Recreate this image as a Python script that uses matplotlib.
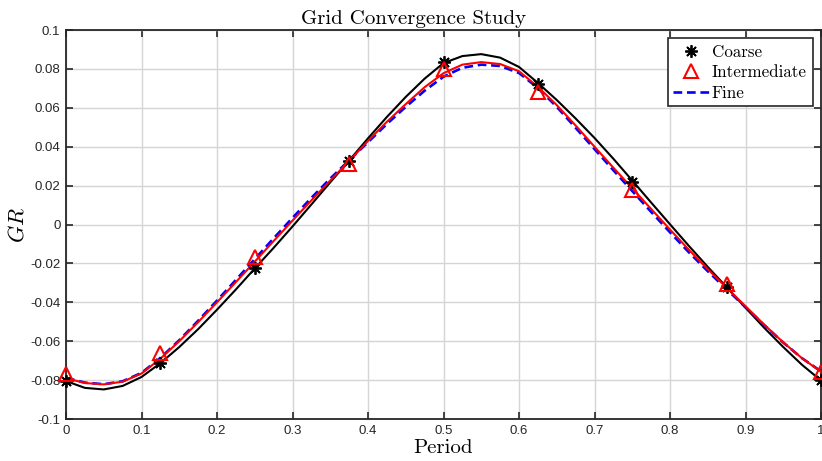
import numpy as np
import matplotlib.pyplot as plt
from matplotlib.lines import Line2D

plt.rcParams['mathtext.fontset'] = 'cm'

# sample points of each grid (one per eighth of the period)
period_pts = [0, 0.125, 0.25, 0.375, 0.5, 0.625, 0.75, 0.875, 1.0]
coarse_pts = [-0.0805, -0.0713, -0.0226, 0.0329, 0.0833, 0.0723, 0.0220, -0.0322, -0.0802]
inter_pts = [-0.0768, -0.0660, -0.0168, 0.0312, 0.0800, 0.0680, 0.0178, -0.0308, -0.0760]

# fitted curves over the period
period = np.linspace(0, 1, 41)
coarse_fit = [-0.0805, -0.0840, -0.0848, -0.0830, -0.0784, -0.0713, -0.0630, -0.0538, -0.0438,
              -0.0334, -0.0226, -0.0120, -0.0010, 0.0103, 0.0217, 0.0329, 0.0443, 0.0553,
              0.0656, 0.0750, 0.0830, 0.0866, 0.0876, 0.0858, 0.0810, 0.0728, 0.0640,
              0.0545, 0.0445, 0.0338, 0.0226, 0.0113, 0.0001, -0.0110, -0.0218, -0.0322,
              -0.0428, -0.0532, -0.0630, -0.0722, -0.0802]
inter_fit = [-0.0790, -0.0815, -0.0822, -0.0808, -0.0766, -0.0690, -0.0600, -0.0502, -0.0400,
             -0.0296, -0.0191, -0.0085, 0.0020, 0.0124, 0.0226, 0.0326, 0.0430, 0.0528,
             0.0619, 0.0706, 0.0778, 0.0822, 0.0835, 0.0825, 0.0788, 0.0708, 0.0614,
             0.0509, 0.0400, 0.0292, 0.0186, 0.0080, -0.0026, -0.0130, -0.0230, -0.0325,
             -0.0420, -0.0516, -0.0606, -0.0688, -0.0757]
fine_fit = [-0.0788, -0.0813, -0.0821, -0.0806, -0.0763, -0.0686, -0.0595, -0.0495, -0.0391,
            -0.0285, -0.0178, -0.0071, 0.0034, 0.0137, 0.0236, 0.0330, 0.0423, 0.0517,
            0.0605, 0.0688, 0.0760, 0.0806, 0.0822, 0.0815, 0.0779, 0.0702, 0.0605,
            0.0497, 0.0388, 0.0279, 0.0172, 0.0065, -0.0040, -0.0143, -0.0240, -0.0333,
            -0.0425, -0.0518, -0.0607, -0.0688, -0.0755]

xticks = [0, 0.1, 0.2, 0.3, 0.4, 0.5, 0.6, 0.7, 0.8, 0.9, 1]
yticks = [-0.1, -0.08, -0.06, -0.04, -0.02, 0, 0.02, 0.04, 0.06, 0.08, 0.1]

axcol = '#262626'
fine_dash = (0, (3.3, 1.8))
fig = plt.figure(figsize=(8.22, 4.61), dpi=100)
ax = fig.add_axes([0.0803, 0.0911, 0.9185, 0.8438])

ax.plot(period, coarse_fit, color='k', lw=1.5, zorder=3)
ax.plot(period, fine_fit, color='#0000ff', lw=1.9, ls=fine_dash, zorder=3)
ax.plot(period, inter_fit, color='#ff0000', lw=1.5, zorder=4)

ms_star = (8, 2, 0)
ax.plot(period_pts, coarse_pts, ls='none', marker=ms_star, ms=9, mec='k', mew=1.3,
        zorder=5, clip_on=False)
ax.plot(period_pts, inter_pts, ls='none', marker='^', ms=9.5, mfc='none', mec='#ff0000',
        mew=1.5, zorder=6, clip_on=False)

ax.set_xlim(0, 1)
ax.set_ylim(-0.1, 0.1)
ax.set_xticks(xticks)
ax.set_xticklabels(['%g' % v for v in xticks])
ax.set_yticks(yticks)
ax.set_yticklabels(['%g' % v for v in yticks])
ax.tick_params(direction='in', length=5, width=1.2, colors=axcol, labelsize=9.5,
               top=True, right=True, labeltop=False, labelright=False, pad=4)
for lab in ax.get_xticklabels() + ax.get_yticklabels():
    lab.set_fontfamily('Liberation Sans')
for sp in ax.spines.values():
    sp.set_color(axcol)
    sp.set_linewidth(1.3)
ax.grid(True, color='#d5d5d5', lw=1.0)
ax.set_axisbelow(True)

ax.set_title('Grid Convergence Study', fontfamily='cmr10', fontsize=15, x=0.46, pad=4)
ax.set_xlabel('Period', fontfamily='cmr10', fontsize=15, labelpad=2)
ax.set_ylabel(r'$GR$', fontsize=16, labelpad=2)

handles = [
    Line2D([], [], ls='none', marker=ms_star, ms=9, mec='k', mew=1.3),
    Line2D([], [], ls='none', marker='^', ms=9.5, mfc='none', mec='#ff0000', mew=1.5),
    Line2D([], [], color='#0000ff', lw=1.9, ls=fine_dash),
]
leg = ax.legend(handles, ['Coarse', 'Intermediate', 'Fine'], loc='upper right',
                prop={'family': 'cmr10', 'size': 12.2}, fancybox=False, framealpha=1,
                edgecolor=axcol, borderaxespad=0.5, handlelength=2.1, handletextpad=0.15,
                labelspacing=0.3, borderpad=0.35)
leg.get_frame().set_linewidth(1.2)

fig.savefig('out.png', dpi=100)
